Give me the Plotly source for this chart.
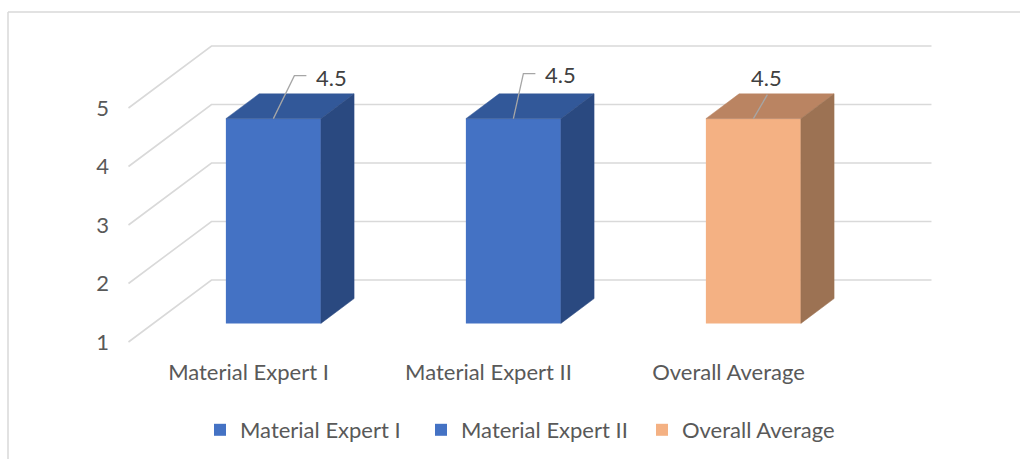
import plotly.graph_objects as go

# ---------------- data ----------------
categories = ["Material Expert I", "Material Expert II", "Overall Average"]
values = [4.5, 4.5, 4.5]
y_ticks = [1, 2, 3, 4, 5]
axis_base = 1

# ---------------- style ----------------
front_colors = ["#4472C4", "#4472C4", "#F4B183"]
top_colors = ["#325899", "#325899", "#BA8462"]
side_colors = ["#2A4980", "#2A4980", "#9C7253"]
grid_color = "#D9D9D9"
text_color = "#595959"
label_color = "#404040"
FONT = "Lato"
FS = 22

W, H = 1020, 459
# pixel geometry of the oblique projection
PX_X = 240.0     # pixels per category
PX_Y = 58.5      # pixels per value unit
DEPTH_PX = (83.0, 62.0)   # depth offset (right, up) in pixels
DX = DEPTH_PX[0] / PX_X
DY = DEPTH_PX[1] / PX_Y
BAR_W = 95.0 / PX_X
D0, D1 = 0.3, 0.7          # bar depth span

ml, mr, mt, mb = 128, 85, 40, 114
plot_w = W - ml - mr
plot_h = H - mt - mb
x0 = -0.502
x_range = [x0, x0 + plot_w / PX_X]
y_bottom = axis_base - 3.0 / PX_Y
y_range = [y_bottom, y_bottom + plot_h / PX_Y]


def P(x, v, d):
    return (x + d * DX, v + d * DY)


fig = go.Figure()
shapes = []
annotations = []

# grid lines (left wall diagonal + back wall)
xmin, xmax = -0.5, len(categories) - 0.5
for v in y_ticks:
    a = P(xmin, v, 0)
    b = P(xmin, v, 1)
    c = P(xmax, v, 1)
    shapes.append(dict(type="path", xref="x", yref="y", layer="below",
                       path=f"M{a[0]},{a[1]} L{b[0]},{b[1]} L{c[0]},{c[1]}",
                       line=dict(color=grid_color, width=1.6)))

# bars
for i, (cat, val) in enumerate(zip(categories, values)):
    xc = i + D0 * DX
    fig.add_trace(go.Bar(
        x=[xc], y=[val - axis_base], base=[axis_base + D0 * DY],
        width=BAR_W, name=cat,
        marker=dict(color=front_colors[i], line=dict(width=0)),
        hoverinfo="skip"))
    xl, xr = i - BAR_W / 2, i + BAR_W / 2
    top = [P(xl, val, D0), P(xr, val, D0), P(xr, val, D1), P(xl, val, D1), P(xl, val, D0)]
    side = [P(xr, axis_base, D0), P(xr, val, D0), P(xr, val, D1), P(xr, axis_base, D1), P(xr, axis_base, D0)]
    for poly, col in ((top, top_colors[i]), (side, side_colors[i])):
        fig.add_trace(go.Scatter(
            x=[p[0] for p in poly], y=[p[1] for p in poly],
            mode="lines", fill="toself", fillcolor=col,
            line=dict(width=0.5, color=col), showlegend=False, hoverinfo="skip"))

# data labels with leader lines (pixel offsets from the bar's top front edge centre)
leader_offsets = [  # (elbow dx, elbow dy, end dx, text x, text y, anchor)
    (21, 43, 33, 41, 41, "left"),
    (10, 45, 22, 30, 44, "left"),
    (14, 24, 14, 13, 41, "center"),
]
for i, val in enumerate(values):
    sx, sy = P(i, val, D0)
    ex, ey, hx, tx, ty, anc = leader_offsets[i]
    pts = [(sx, sy), (sx + ex / PX_X, sy + ey / PX_Y), (sx + hx / PX_X, sy + ey / PX_Y)]
    path = "M" + " L".join(f"{p[0]},{p[1]}" for p in pts)
    shapes.append(dict(type="path", xref="x", yref="y", path=path,
                       line=dict(color="#A6A6A6", width=1.3)))
    annotations.append(dict(x=sx, y=sy, xref="x", yref="y", text=f"{val}",
                            showarrow=False, xanchor=anc, yanchor="middle",
                            xshift=tx, yshift=ty,
                            font=dict(family=FONT, size=FS, color=label_color)))

# chart border (top and left edges visible)
plot_bottom_px = H - mb
shapes.append(dict(type="line", xref="paper", yref="paper",
                   x0=(8 - ml) / plot_w, x1=(W - ml) / plot_w,
                   y0=(plot_bottom_px - 12) / plot_h, y1=(plot_bottom_px - 12) / plot_h,
                   line=dict(color=grid_color, width=1.5)))
shapes.append(dict(type="line", xref="paper", yref="paper",
                   x0=(8 - ml) / plot_w, x1=(8 - ml) / plot_w,
                   y0=(plot_bottom_px - 12) / plot_h, y1=-mb / plot_h,
                   line=dict(color=grid_color, width=1.5)))

fig.update_layout(
    width=W, height=H,
    margin=dict(l=ml, r=mr, t=mt, b=mb, autoexpand=False),
    paper_bgcolor="white", plot_bgcolor="white",
    barmode="overlay",
    font=dict(family=FONT, size=FS, color=text_color),
    shapes=shapes, annotations=annotations,
    showlegend=True,
    legend=dict(orientation="h", x=(200 - ml) / plot_w, xanchor="left",
                y=(plot_bottom_px - 430) / plot_h, yanchor="middle",
                entrywidth=176, entrywidthmode="pixels",
                font=dict(family=FONT, size=FS, color=text_color),
                traceorder="normal", itemclick=False, bgcolor="rgba(0,0,0,0)"),
    xaxis=dict(range=x_range, tickvals=list(range(len(categories))), ticktext=categories,
               showgrid=False, zeroline=False, showline=False, ticks="",
               ticklabelstandoff=12, fixedrange=True),
    yaxis=dict(range=y_range, tickvals=y_ticks, showgrid=False, zeroline=False,
               showline=False, ticks="", ticklabelstandoff=18, fixedrange=True),
)

fig.write_html("out.html")
